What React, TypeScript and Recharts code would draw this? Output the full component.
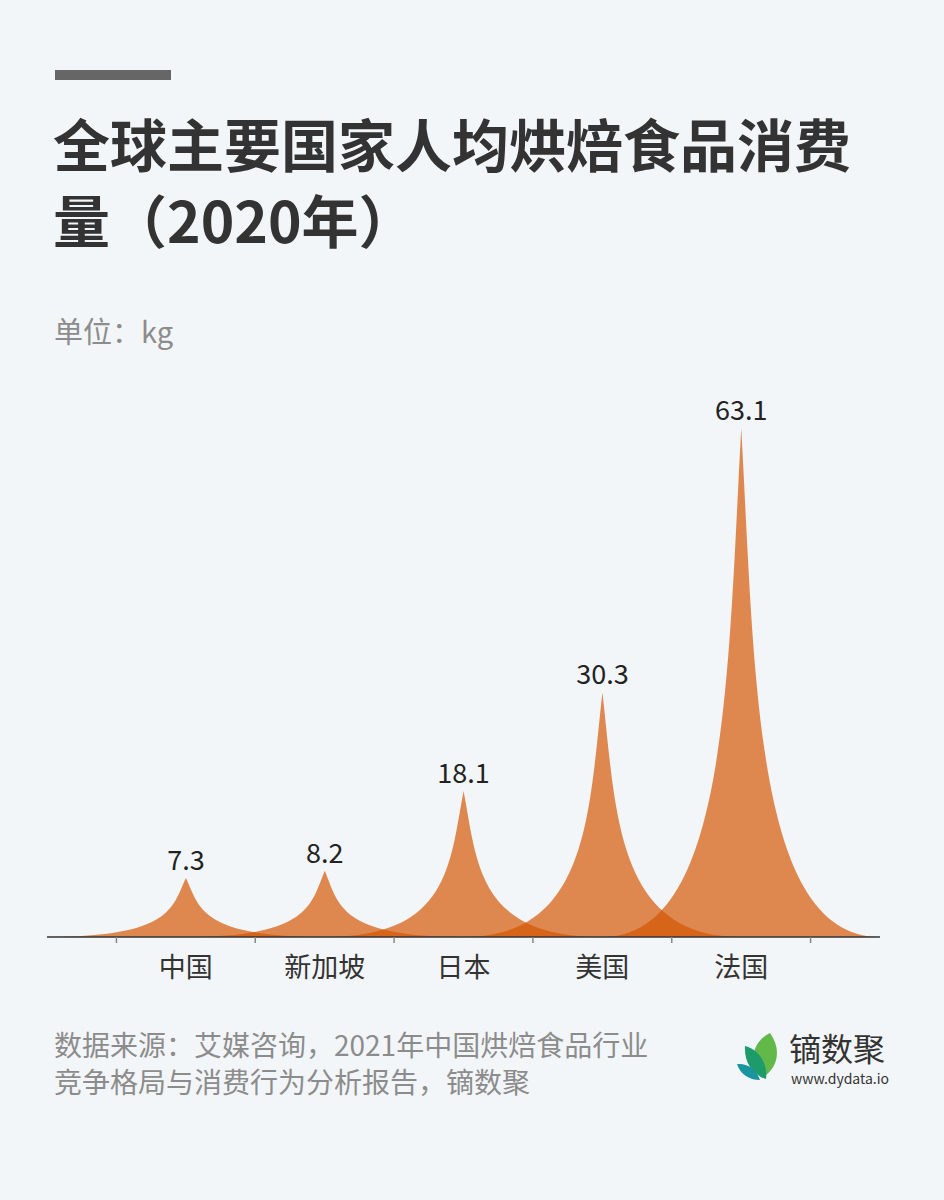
import React from 'react';
import { BarChart, Bar, XAxis, YAxis, LabelList } from 'recharts';

const categories = ['中国', '新加坡', '日本', '美国', '法国'];
const values = [7.3, 8.2, 18.1, 30.3, 63.1];
const yDomain = [0, 70];

const titleLines = ['全球主要国家人均烘焙食品消费', '量（2020年）'];
const unitText = '单位：kg';
const sourceLines = ['数据来源：艾媒咨询，2021年中国烘焙食品行业', '竞争格局与消费行为分析报告，镝数聚'];

const data = categories.map((name, i) => ({ name, value: values[i] }));

const FONT = "'Noto Sans CJK SC', 'Noto Sans', sans-serif";
const CHART_W = 944;
const CHART_H = 1000;
const MARGIN = { top: 372, right: 64, bottom: 33, left: 47 };
const PLOT_W = CHART_W - MARGIN.left - MARGIN.right;
const BAND = PLOT_W / (categories.length + 1);
const PAD = BAND / 2;

const Spike = (props: any) => {
  const { x, y, width, height } = props;
  if (height == null || height <= 0) return null;
  const cx = x + width / 2;
  const hw = width;
  const bottom = y + height;
  const c = hw * 0.1;
  const mid = y + height * 0.5;
  const d = `M${cx - hw},${bottom} L${cx + hw},${bottom} C${cx + c},${bottom} ${cx + c},${mid} ${cx},${y} C${cx - c},${mid} ${cx - c},${bottom} ${cx - hw},${bottom} Z`;
  return <path d={d} fill="rgb(212,84,0)" fillOpacity={0.68} />;
};

const CategoryTick = (props: any) => {
  const { x, y, payload, index } = props;
  const axisY = y - 8;
  return (
    <g>
      <line x1={x - BAND / 2} x2={x - BAND / 2} y1={axisY} y2={axisY + 6} stroke="#888" strokeWidth={1.5} />
      {index === categories.length - 1 && (
        <line x1={x + BAND / 2} x2={x + BAND / 2} y1={axisY} y2={axisY + 6} stroke="#888" strokeWidth={1.5} />
      )}
      <text x={x} y={axisY + 40} textAnchor="middle" fontSize={27} fill="#333" fontFamily={FONT}>
        {payload.value}
      </text>
    </g>
  );
};

export default function App() {
  return (
    <div
      style={{
        position: 'absolute',
        left: 0,
        top: 0,
        width: 944,
        height: 1200,
        background: '#F3F6F9',
        fontFamily: FONT,
        overflow: 'hidden',
      }}
    >
      <svg width={944} height={1200} style={{ position: 'absolute', left: 0, top: 0 }}>
        <rect x={55} y={70} width={116} height={10} fill="#666" />
        {titleLines.map((t, i) => (
          <text key={i} x={53} y={167 + i * 76} fontSize={57} fontWeight={700} fill="#333" fontFamily={FONT}>
            {t}
          </text>
        ))}
        <text x={54} y={343} fontSize={29} fill="#8c8c8c" fontFamily={FONT}>
          {unitText}
        </text>
        {sourceLines.map((t, i) => (
          <text key={i} x={54} y={1056 + i * 37} fontSize={28} fill="#8c8c8c" fontFamily={FONT}>
            {t}
          </text>
        ))}
        <g>
          <path d="M762,1078 C748,1062 752,1042 770,1033 C782,1050 778,1068 762,1078 Z" fill="#63B84A" />
          <path d="M745,1046 C760,1050 768,1065 766,1079 C752,1074 744,1062 745,1046 Z" fill="#1E9B6B" />
          <path d="M737,1064 C748,1063 757,1070 760,1080 C749,1080 740,1074 737,1064 Z" fill="#1A95A0" />
          <text x={789} y={1061} fontSize={32} fill="#333" fontFamily={FONT}>
            镝数聚
          </text>
          <text x={791} y={1084} fontSize={14} fill="#333" fontFamily={FONT}>
            www.dydata.io
          </text>
        </g>
      </svg>
      <div style={{ position: 'absolute', left: 0, top: 0 }}>
        <BarChart
          width={CHART_W}
          height={CHART_H}
          data={data}
          margin={MARGIN}
          barCategoryGap={0}
          style={{ fontFamily: FONT }}
        >
          <XAxis
            dataKey="name"
            height={30}
            padding={{ left: PAD, right: PAD }}
            axisLine={{ stroke: '#333', strokeWidth: 1.5 }}
            tickLine={false}
            tickSize={6}
            tickMargin={2}
            tick={<CategoryTick />}
            interval={0}
          />
          <YAxis hide domain={yDomain} />
          <Bar dataKey="value" shape={<Spike />} isAnimationActive={false}>
            <LabelList dataKey="value" position="top" offset={8} fill="#222" fontSize={27} fontFamily={FONT} />
          </Bar>
        </BarChart>
      </div>
    </div>
  );
}
